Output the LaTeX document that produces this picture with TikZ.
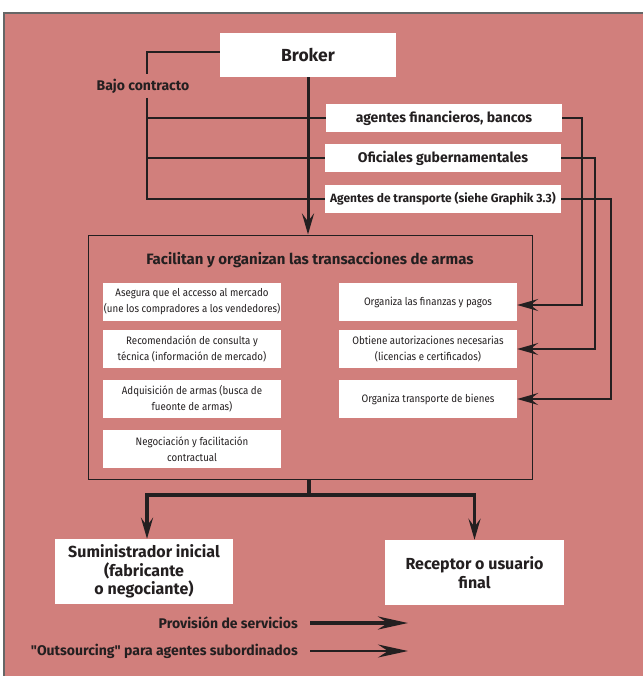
\documentclass[tikz,border=0pt]{standalone}
\usepackage{fontspec}
\setmainfont[FakeStretch=0.9]{Fira Sans}
\newfontfamily\hfam{Fira Sans}
\usetikzlibrary{arrows.meta}
\definecolor{bg}{HTML}{D17F7C}
\definecolor{ink}{HTML}{231F20}
\definecolor{frm}{HTML}{666666}
\begin{document}
\begin{tikzpicture}[x=1pt,y=-1pt,
  wbox/.style={fill=white,inner sep=0pt,align=center,text=ink},
  agbox/.style={wbox,minimum width=236pt,minimum height=28pt,font=\hfam\bfseries\fontsize{14}{16}\selectfont},
  inbox/.style={wbox,minimum width=178pt,minimum height=38pt,font=\fontsize{10.8}{16}\selectfont},
  endbox/.style={wbox,minimum width=178pt,minimum height=65pt,font=\hfam\bfseries\fontsize{16}{18.5}\selectfont},
  lbl/.style={inner sep=0pt,text=ink,font=\hfam\bfseries\fontsize{14}{16}\selectfont},
  tip/.style={-{Stealth[length=21pt,width=12pt,inset=8pt]}},
  bracket/.style={draw=ink,line width=1.5pt},
  feed/.style={draw=ink,line width=1.8pt,tip},
  mainarrow/.style={draw=ink,line width=3pt,tip},
  outarrow/.style={draw=ink,line width=3.5pt,tip,line join=miter},
]
\useasboundingbox (0,0) rectangle (643,676);
\fill[bg] (4,13) rectangle (643,676);
\draw[frm,line width=1.2pt] (4,676) -- (4,13) -- (643,13);

% Broker
\node[wbox,minimum width=176pt,minimum height=44pt,font=\hfam\bfseries\fontsize{17.5}{20}\selectfont] (broker) at (308,55) {Broker};

% agent boxes
\node[agbox] (ag1) at (444,118) {agentes financieros, bancos};
\node[agbox] (ag2) at (443,158) {Oficiales gubernamentales};
\node[agbox,font=\hfam\bfseries\fontsize{12}{14}\selectfont] (ag3) at (443,199) {Agentes de transporte (siehe Graphik 3.3)};

% Bajo contracto bracket
\node[lbl] (bajo) at (143,86) {Bajo contracto};
\coordinate (bx) at (147,52);
\draw[bracket] ([yshift=3pt]broker.west) -- (bx) -- (bx |- 0,74);
\draw[bracket] (bx |- 0,98) -- (bx |- ag3.west) -- (ag3.west);
\draw[bracket] (bx |- ag1.west) -- (ag1.west);
\draw[bracket] (bx |- ag2.west) -- (ag2.west);

% frame
\node[draw=ink,line width=1pt,minimum width=444pt,minimum height=244pt,inner sep=0pt] (frame) at (310,357) {};
\node[lbl,font=\hfam\bfseries\fontsize{15}{17}\selectfont] (title) at (310,260) {Facilitan y organizan las transacciones de armas};

% main arrow
\draw[mainarrow] (broker.south) -- (broker.south |- frame.north);

% inner boxes
\node[inbox] (l1) at (192,302) {Asegura que el accesso al mercado\\(une los compradores a los vendedores)};
\node[inbox] (l2) at (192,349) {Recomendación de consulta y\\técnica (información de mercado)};
\node[inbox] (l3) at (192,399) {Adquisición de armas (busca de\\fueonte de armas)};
\node[inbox] (l4) at (192,449) {Negociación y facilitación\\contractual};
\node[inbox] (fin) at (428,302) {Organiza las finanzas y pagos};
\node[inbox] (aut) at (428,349) {Obtiene autorizaciones necesarias\\(licencias e certificados)};
\node[inbox] (tra) at (428,399) {Organiza transporte de bienes};

% feed connectors
\draw[feed] (ag1.east) -- ++(20,0) |- ([yshift=-3pt]fin.east);
\draw[feed] (ag2.east) -- ++(34,0) |- (aut.east);
\draw[feed] (ag3.east) -- ++(50,0) |- (tra.east);

% end boxes
\node[endbox] (sup) at (144,571.5) {Suministrador inicial\\(fabricante\\o negociante)};
\node[endbox,minimum width=179pt] (rec) at (474.5,572.5) {Receptor o usuario\\final};

% output arrows
\coordinate (j) at (309,495);
\draw[draw=ink,line width=3.5pt] (frame.south -| j) -- (j);
\draw[outarrow] (j) -| (sup.north -| 147,0);
\draw[outarrow] (j) -| (rec.north);

% legend
\node[lbl,anchor=east] (leg1) at (298,623) {Provisión de servicios};
\node[lbl,anchor=east] (leg2) at (298,651) {"Outsourcing" para agentes subordinados};
\coordinate (e1) at (408,623);
\coordinate (e2) at (408,651);
\draw[draw=ink,line width=4pt,-{Stealth[length=30pt,width=13pt,inset=10pt]}] ([xshift=12pt]leg1.east) -- (e1);
\draw[draw=ink,line width=2pt,-{Stealth[length=30pt,width=13pt,inset=10pt]}] ([xshift=12pt]leg2.east) -- (e2);
\end{tikzpicture}
\end{document}
